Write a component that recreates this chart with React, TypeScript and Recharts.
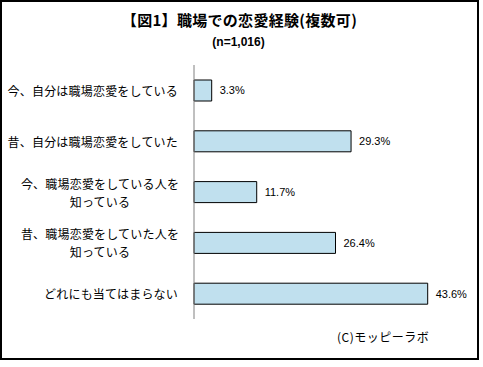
import React from 'react'
import { BarChart, Bar, XAxis, YAxis, LabelList } from 'recharts'

const categories = [
  ['今、自分は職場恋愛をしている'],
  ['昔、自分は職場恋愛をしていた'],
  ['今、職場恋愛をしている人を', '知っている'],
  ['昔、職場恋愛をしていた人を', '知っている'],
  ['どれにも当てはまらない'],
]
const values = [3.3, 29.3, 11.7, 26.4, 43.6]

const data = categories.map((lines, i) => ({ name: lines.join(''), lines, value: values[i] }))

const FONT = '"Noto Sans CJK JP", sans-serif'

const CategoryTick = ({ x, y, index }: { x: number; y: number; index: number }) => {
  const lines = data[index].lines
  const right = x - 8
  if (lines.length === 1) {
    return (
      <text x={right} y={y} textAnchor="end" dominantBaseline="central" fontSize={12} fill="#000" fontFamily={FONT} letterSpacing={0.2}>
        {lines[0]}
      </text>
    )
  }
  const longest = Math.max(...lines.map(l => l.length))
  const cx = right - (longest * 12) / 2
  return (
    <text x={cx} y={y} textAnchor="middle" fontSize={12} fill="#000" fontFamily={FONT} letterSpacing={0.2}>
      {lines.map((l, i) => (
        <tspan key={i} x={cx} y={y + (i === 0 ? -9 : 9)} dominantBaseline="central">
          {l}
        </tspan>
      ))}
    </text>
  )
}

export default function App() {
  return (
    <div style={{ position: 'absolute', left: 0, top: 0, width: 483, height: 367, background: '#fff' }}>
      <div
        style={{
          position: 'absolute', left: 0, top: 0, width: 475, height: 356,
          border: '2px solid #000', boxSizing: 'content-box',
        }}
      />
      <div style={{ position: 'absolute', left: 0, top: 10, width: 479, textAlign: 'center', fontFamily: FONT, fontWeight: 600, fontSize: 15, lineHeight: '20px', letterSpacing: 0.3 }}>
        【図1】職場での恋愛経験(複数可)
      </div>
      <div style={{ position: 'absolute', left: 0, top: 33, width: 477, textAlign: 'center', fontFamily: '"Liberation Sans", sans-serif', fontWeight: 'bold', fontSize: 12, lineHeight: '18px' }}>
        (n=1,016)
      </div>
      <div style={{ position: 'absolute', left: 337, top: 328, fontFamily: FONT, fontSize: 12, lineHeight: '18px', letterSpacing: 0.5 }}>
        (C)モッピーラボ
      </div>
      <BarChart
        width={483}
        height={367}
        data={data}
        layout="vertical"
        margin={{ top: 65, right: 21, bottom: 48, left: 0 }}
        barSize={21}
        style={{ position: 'absolute', left: 0, top: 0 }}
      >
        <XAxis type="number" domain={[0, 50]} hide />
        <YAxis
          type="category"
          dataKey="name"
          width={194}
          axisLine={{ stroke: '#808080' }}
          tickLine={false}
          tick={CategoryTick as any}
          interval={0}
        />
        <Bar dataKey="value" fill="#c0e0ee" stroke="#000" strokeWidth={1} isAnimationActive={false}>
          <LabelList
            dataKey="value"
            position="right"
            offset={8}
            formatter={(v: number) => `${v}%`}
            style={{ fontSize: 11, fill: '#000', fontFamily: '"Liberation Sans", sans-serif' }}
          />
        </Bar>
      </BarChart>
    </div>
  )
}
